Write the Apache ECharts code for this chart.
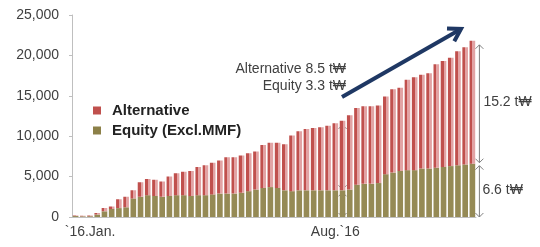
<!DOCTYPE html>
<html>
<head>
<meta charset="utf-8">
<script src="https://cdn.jsdelivr.net/npm/echarts@6/dist/echarts.min.js"></script>
<style>
html, body { margin: 0; padding: 0; background: #fff; }
#chart { width: 540px; height: 247px; }
</style>
</head>
<body>
<div id="chart"></div>
<script>
// weekly data, 2016.01 ~ 2017.01 (unit: 100 mil. won)
var weeks = ['W01', 'W02', 'W03', 'W04', 'W05', 'W06', 'W07', 'W08', 'W09', 'W10',
	'W11', 'W12', 'W13', 'W14', 'W15', 'W16', 'W17', 'W18', 'W19', 'W20',
	'W21', 'W22', 'W23', 'W24', 'W25', 'W26', 'W27', 'W28', 'W29', 'W30',
	'W31', 'W32', 'W33', 'W34', 'W35', 'W36', 'W37', 'W38', 'W39', 'W40',
	'W41', 'W42', 'W43', 'W44', 'W45', 'W46', 'W47', 'W48', 'W49', 'W50',
	'W51', 'W52', 'W53', 'W54', 'W55', 'W56'];
var equity = [120, 80, 100, 300, 700, 1000, 1100, 1200, 2300, 2500,
	2700, 2600, 2500, 2600, 2700, 2700, 2600, 2700, 2700, 2800,
	2900, 2900, 2900, 3000, 3200, 3400, 3600, 3700, 3600, 3300,
	3200, 3300, 3300, 3300, 3300, 3300, 3300, 3300, 3400, 4000,
	4100, 4100, 4200, 5300, 5500, 5700, 5800, 5800, 6000, 6000,
	6100, 6200, 6300, 6400, 6500, 6600];
var alternative = [80, 70, 100, 200, 400, 300, 1100, 1300, 1000, 1800,
	2000, 2000, 1900, 2400, 2700, 2900, 3100, 3500, 3700, 3900,
	4100, 4500, 4500, 4600, 4700, 4700, 5300, 5500, 5600, 5700,
	6900, 7300, 7600, 7700, 7800, 8000, 8300, 8600, 9200, 9500,
	9600, 9600, 9600, 9600, 10300, 10300, 11200, 11500, 11600, 11800,
	12800, 13100, 13400, 14100, 14500, 15200];
var yTicks = [0, 5000, 10000, 15000, 20000, 25000];
var xLabelIndex = [2, 36];
var xLabelText = ['`16.Jan.', 'Aug.`16'];

var font = '"Liberation Sans", Arial, sans-serif';
var chart = echarts.init(document.getElementById('chart'));

chart.setOption({
	animation: false,
	textStyle: { fontFamily: font },
	grid: { left: 72, right: 64, top: 15, bottom: 30 },
	legend: {
		data: [
			{ name: 'Alternative', itemStyle: { color: '#c0504d' } },
			{ name: 'Equity (Excl.MMF)', itemStyle: { color: '#8c8048' } }
		],
		orient: 'vertical',
		left: 88,
		top: 98,
		icon: 'rect',
		itemWidth: 8,
		itemHeight: 8,
		itemGap: 5,
		textStyle: { fontSize: 15, fontWeight: 'bold', color: '#222', fontFamily: font, padding: [0, 0, 0, 6] }
	},
	xAxis: {
		type: 'category',
		data: weeks,
		axisLine: { lineStyle: { color: '#bfbfbf' } },
		axisTick: { show: false },
		axisLabel: {
			interval: 0,
			margin: 8,
			fontSize: 14,
			color: '#404040',
			formatter: function(v, i) {
				var k = xLabelIndex.indexOf(i);
				return k >= 0 ? xLabelText[k] : '';
			}
		}
	},
	yAxis: {
		type: 'value',
		min: yTicks[0],
		max: yTicks[yTicks.length - 1],
		interval: 5000,
		axisLine: { show: true, lineStyle: { color: '#bfbfbf' } },
		axisTick: { show: true, length: 3, lineStyle: { color: '#bfbfbf' } },
		splitLine: { show: false },
		axisLabel: {
			fontSize: 14,
			color: '#404040',
			margin: 13,
			formatter: function(v) { return v.toLocaleString('en-US'); }
		}
	},
	series: [{
		name: 'Equity (Excl.MMF)',
		type: 'bar',
		stack: 'total',
		data: equity,
		barCategoryGap: '22%',
		itemStyle: { color: '#958a55' }
	}, {
		name: 'Alternative',
		type: 'bar',
		stack: 'total',
		data: alternative,
		itemStyle: {
			// red / pink striped look of the daily bars
			color: new echarts.graphic.LinearGradient(0, 0, 1, 0, [
				{ offset: 0, color: '#c0504d' },
				{ offset: 0.5, color: '#c0504d' },
				{ offset: 0.5, color: '#e2a3a4' },
				{ offset: 1, color: '#e2a3a4' }
			])
		}
	}]
});

// annotations
function px(i, v) {
	return chart.convertToPixel({ seriesIndex: 0 }, [i, v]);
}

function bracket(x, y1, y2) {
	var h = 4;
	return [{
		type: 'line', shape: { x1: x, y1: y1, x2: x, y2: y2 },
		style: { stroke: '#fff', lineWidth: 5 }
	}, {
		type: 'line', shape: { x1: x, y1: y1, x2: x, y2: y2 },
		style: { stroke: '#7f7f7f', lineWidth: 1 }
	}, {
		type: 'polyline', shape: { points: [[x - h, y1 + h], [x, y1], [x + h, y1 + h]] },
		style: { stroke: '#7f7f7f', lineWidth: 1, fill: null }
	}, {
		type: 'polyline', shape: { points: [[x - h, y2 - h], [x, y2], [x + h, y2 - h]] },
		style: { stroke: '#7f7f7f', lineWidth: 1, fill: null }
	}];
}

var last = weeks.length - 1;
var aug = 37;
var xAug = px(aug, 0)[0];
var xEnd = px(last, 0)[0] + 7;
var yZero = px(0, 0)[1];
var yAugEq = px(aug, equity[aug])[1];
var yAugTot = px(aug, equity[aug] + alternative[aug])[1];
var yEndEq = px(last, equity[last])[1];
var yEndTot = px(last, equity[last] + alternative[last])[1];

var els = [];
els = els.concat(bracket(xAug, yAugTot + 4, yAugEq - 1));
els = els.concat(bracket(xAug, yAugEq + 2, yZero));
els = els.concat(bracket(xEnd, yEndTot + 4, yEndEq - 1));
els = els.concat(bracket(xEnd, yEndEq + 2, yZero));

var tStyle = { fontSize: 14, fill: '#404040', fontFamily: font };
els.push({ type: 'text', x: 346, y: 69, style: Object.assign({ text: 'Alternative 8.5 t₩', align: 'right', verticalAlign: 'middle' }, tStyle) });
els.push({ type: 'text', x: 346, y: 86, style: Object.assign({ text: 'Equity 3.3 t₩', align: 'right', verticalAlign: 'middle' }, tStyle) });
els.push({ type: 'text', x: xEnd + 4, y: (yEndTot + yEndEq) / 2, style: Object.assign({ text: '15.2 t₩', align: 'left', verticalAlign: 'middle' }, tStyle) });
els.push({ type: 'text', x: xEnd + 3, y: (yEndEq + yZero) / 2, style: Object.assign({ text: '6.6 t₩', align: 'left', verticalAlign: 'middle' }, tStyle) });

// trend arrow
var ax1 = 342, ay1 = 97, ax2 = 461, ay2 = 29;
var ang = Math.atan2(ay2 - ay1, ax2 - ax1);
var hl = 14;
els.push({
	type: 'line', shape: { x1: ax1, y1: ay1, x2: ax2 - 2 * Math.cos(ang), y2: ay2 - 2 * Math.sin(ang) },
	style: { stroke: '#1f3864', lineWidth: 4 }
});
els.push({
	type: 'polyline',
	shape: { points: [
		[ax2 - hl * Math.cos(ang - 0.55), ay2 - hl * Math.sin(ang - 0.55)],
		[ax2, ay2],
		[ax2 - hl * Math.cos(ang + 0.55), ay2 - hl * Math.sin(ang + 0.55)]
	] },
	style: { stroke: '#1f3864', lineWidth: 4, fill: null, lineJoin: 'miter' }
});

chart.setOption({ graphic: els });
</script>
</body>
</html>
